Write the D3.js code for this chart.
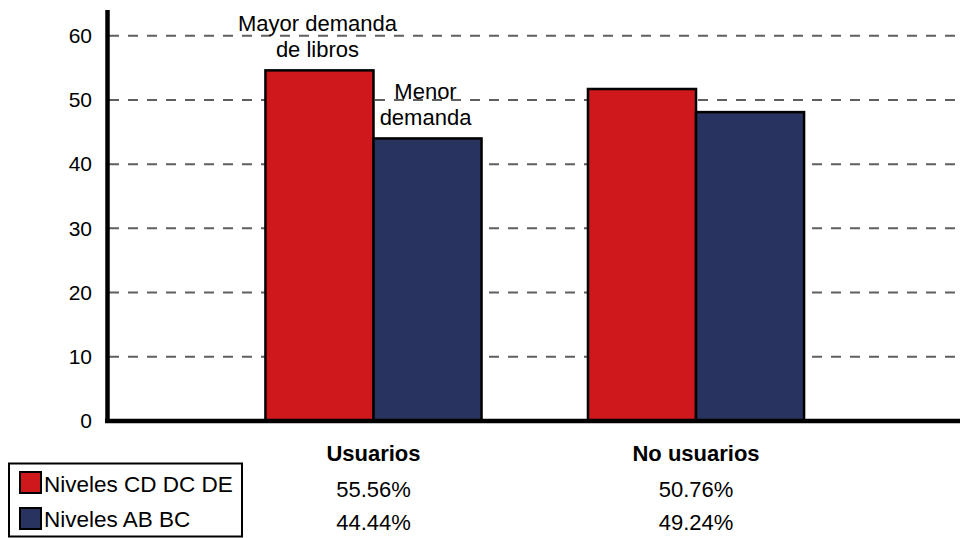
<!DOCTYPE html>
<html>
<head>
<meta charset="utf-8">
<script src="https://cdn.jsdelivr.net/npm/d3@7"></script>
<style>
  body { margin: 0; background: #fff; }
  svg { display: block; font-family: "Liberation Sans", Arial, sans-serif; }
</style>
</head>
<body>
<script>
// Data
const categories = ['Usuarios', 'No usuarios'];
const seriesNames = ['Niveles CD DC DE', 'Niveles AB BC'];
const seriesColors = ['#cf181c', '#28345f'];
// bar heights as drawn
const cdValues = [54.6, 51.7];
const abValues = [44.0, 48.1];
// values printed in the table under the chart
const cdLabels = ['55.56%', '50.76%'];
const abLabels = ['44.44%', '49.24%'];
const yTicks = [0, 10, 20, 30, 40, 50, 60];
const notes = [
  { cat: 'Usuarios', series: 0, lines: ['Mayor demanda', 'de libros'] },
  { cat: 'Usuarios', series: 1, lines: ['Menor', 'demanda'] }
];

const width = 960;
const height = 538;

const svg = d3
  .select('body')
  .append('svg')
  .attr('width', width)
  .attr('height', height);

// Scales
const y = d3.scaleLinear().domain([0, 64]).range([421, 10]);
const x0 = d3
  .scaleBand()
  .domain(categories)
  .range([159, 910.5])
  .padding(0.33);
const x1 = d3
  .scaleBand()
  .domain([0, 1])
  .range([0, x0.bandwidth()]);

const rows = categories.map((c, i) => ({
  cat: c,
  values: [cdValues[i], abValues[i]]
}));

// Dashed grid lines
svg
  .append('g')
  .selectAll('line')
  .data(yTicks.filter((d) => d > 0))
  .enter()
  .append('line')
  .attr('x1', 109)
  .attr('x2', width)
  .attr('y1', (d) => y(d))
  .attr('y2', (d) => y(d))
  .attr('stroke', '#5f5f5f')
  .attr('stroke-width', 2)
  .attr('stroke-dasharray', '10,9');

// Bars
svg
  .append('g')
  .selectAll('g')
  .data(rows)
  .enter()
  .append('g')
  .attr('transform', (d) => `translate(${x0(d.cat)},0)`)
  .selectAll('rect')
  .data((d) => d.values)
  .enter()
  .append('rect')
  .attr('x', (d, i) => x1(i))
  .attr('y', (d) => y(d))
  .attr('width', x1.bandwidth())
  .attr('height', (d) => y(0) - y(d))
  .attr('fill', (d, i) => seriesColors[i])
  .attr('stroke', '#000')
  .attr('stroke-width', 2.5);

// Y axis
const yAxis = d3
  .axisLeft(y)
  .tickValues(yTicks)
  .tickSize(0)
  .tickPadding(15);
const yg = svg
  .append('g')
  .attr('transform', 'translate(107,0)')
  .call(yAxis);
yg.select('.domain').remove();
yg.selectAll('text')
  .attr('font-size', 21)
  .attr('fill', '#000')
  .attr('font-family', '"Liberation Sans", Arial, sans-serif');

// Axis lines
svg
  .append('line')
  .attr('x1', 107.5)
  .attr('x2', 107.5)
  .attr('y1', y(64))
  .attr('y2', y(0) + 2)
  .attr('stroke', '#000')
  .attr('stroke-width', 4.5);
svg
  .append('line')
  .attr('x1', 105)
  .attr('x2', width)
  .attr('y1', y(0))
  .attr('y2', y(0))
  .attr('stroke', '#000')
  .attr('stroke-width', 4.5);

// Annotations above the Usuarios bars
notes.forEach((n) => {
  const rowIdx = categories.indexOf(n.cat);
  const v = rows[rowIdx].values[n.series];
  const cx = x0(n.cat) + x1(n.series) + x1.bandwidth() / 2;
  n.lines
    .slice()
    .reverse()
    .forEach((line, i) => {
      svg
        .append('text')
        .attr('text-anchor', 'middle')
        .attr('font-size', 22)
        .attr('x', cx - 2)
        .attr('y', y(v) - 13 - i * 26)
        .text(line);
    });
});

// Table under the chart
const centers = categories.map((c) => x0(c) + x0.bandwidth() / 2);

svg
  .append('g')
  .selectAll('text')
  .data(categories)
  .enter()
  .append('text')
  .attr('x', (d, i) => centers[i])
  .attr('y', 461)
  .attr('text-anchor', 'middle')
  .attr('font-size', 22)
  .attr('font-weight', 'bold')
  .text((d) => d);

[cdLabels, abLabels].forEach((labels, r) => {
  svg
    .append('g')
    .selectAll('text')
    .data(labels)
    .enter()
    .append('text')
    .attr('x', (d, i) => centers[i])
    .attr('y', 497 + r * 33)
    .attr('text-anchor', 'middle')
    .attr('font-size', 22)
    .text((d) => d);
});

// Legend
const legend = svg.append('g').attr('id', 'legend');
legend
  .append('rect')
  .attr('x', 9)
  .attr('y', 463.5)
  .attr('width', 233)
  .attr('height', 73)
  .attr('fill', '#fff')
  .attr('stroke', '#000')
  .attr('stroke-width', 2);
seriesNames.forEach((name, i) => {
  legend
    .append('rect')
    .attr('x', 20)
    .attr('y', 472 + i * 36)
    .attr('width', 21)
    .attr('height', 21)
    .attr('fill', seriesColors[i])
    .attr('stroke', '#000')
    .attr('stroke-width', 2);
  legend
    .append('text')
    .attr('x', 44)
    .attr('y', 492 + i * 35)
    .attr('font-size', 22.5)
    .text(name);
});
</script>
</body>
</html>
